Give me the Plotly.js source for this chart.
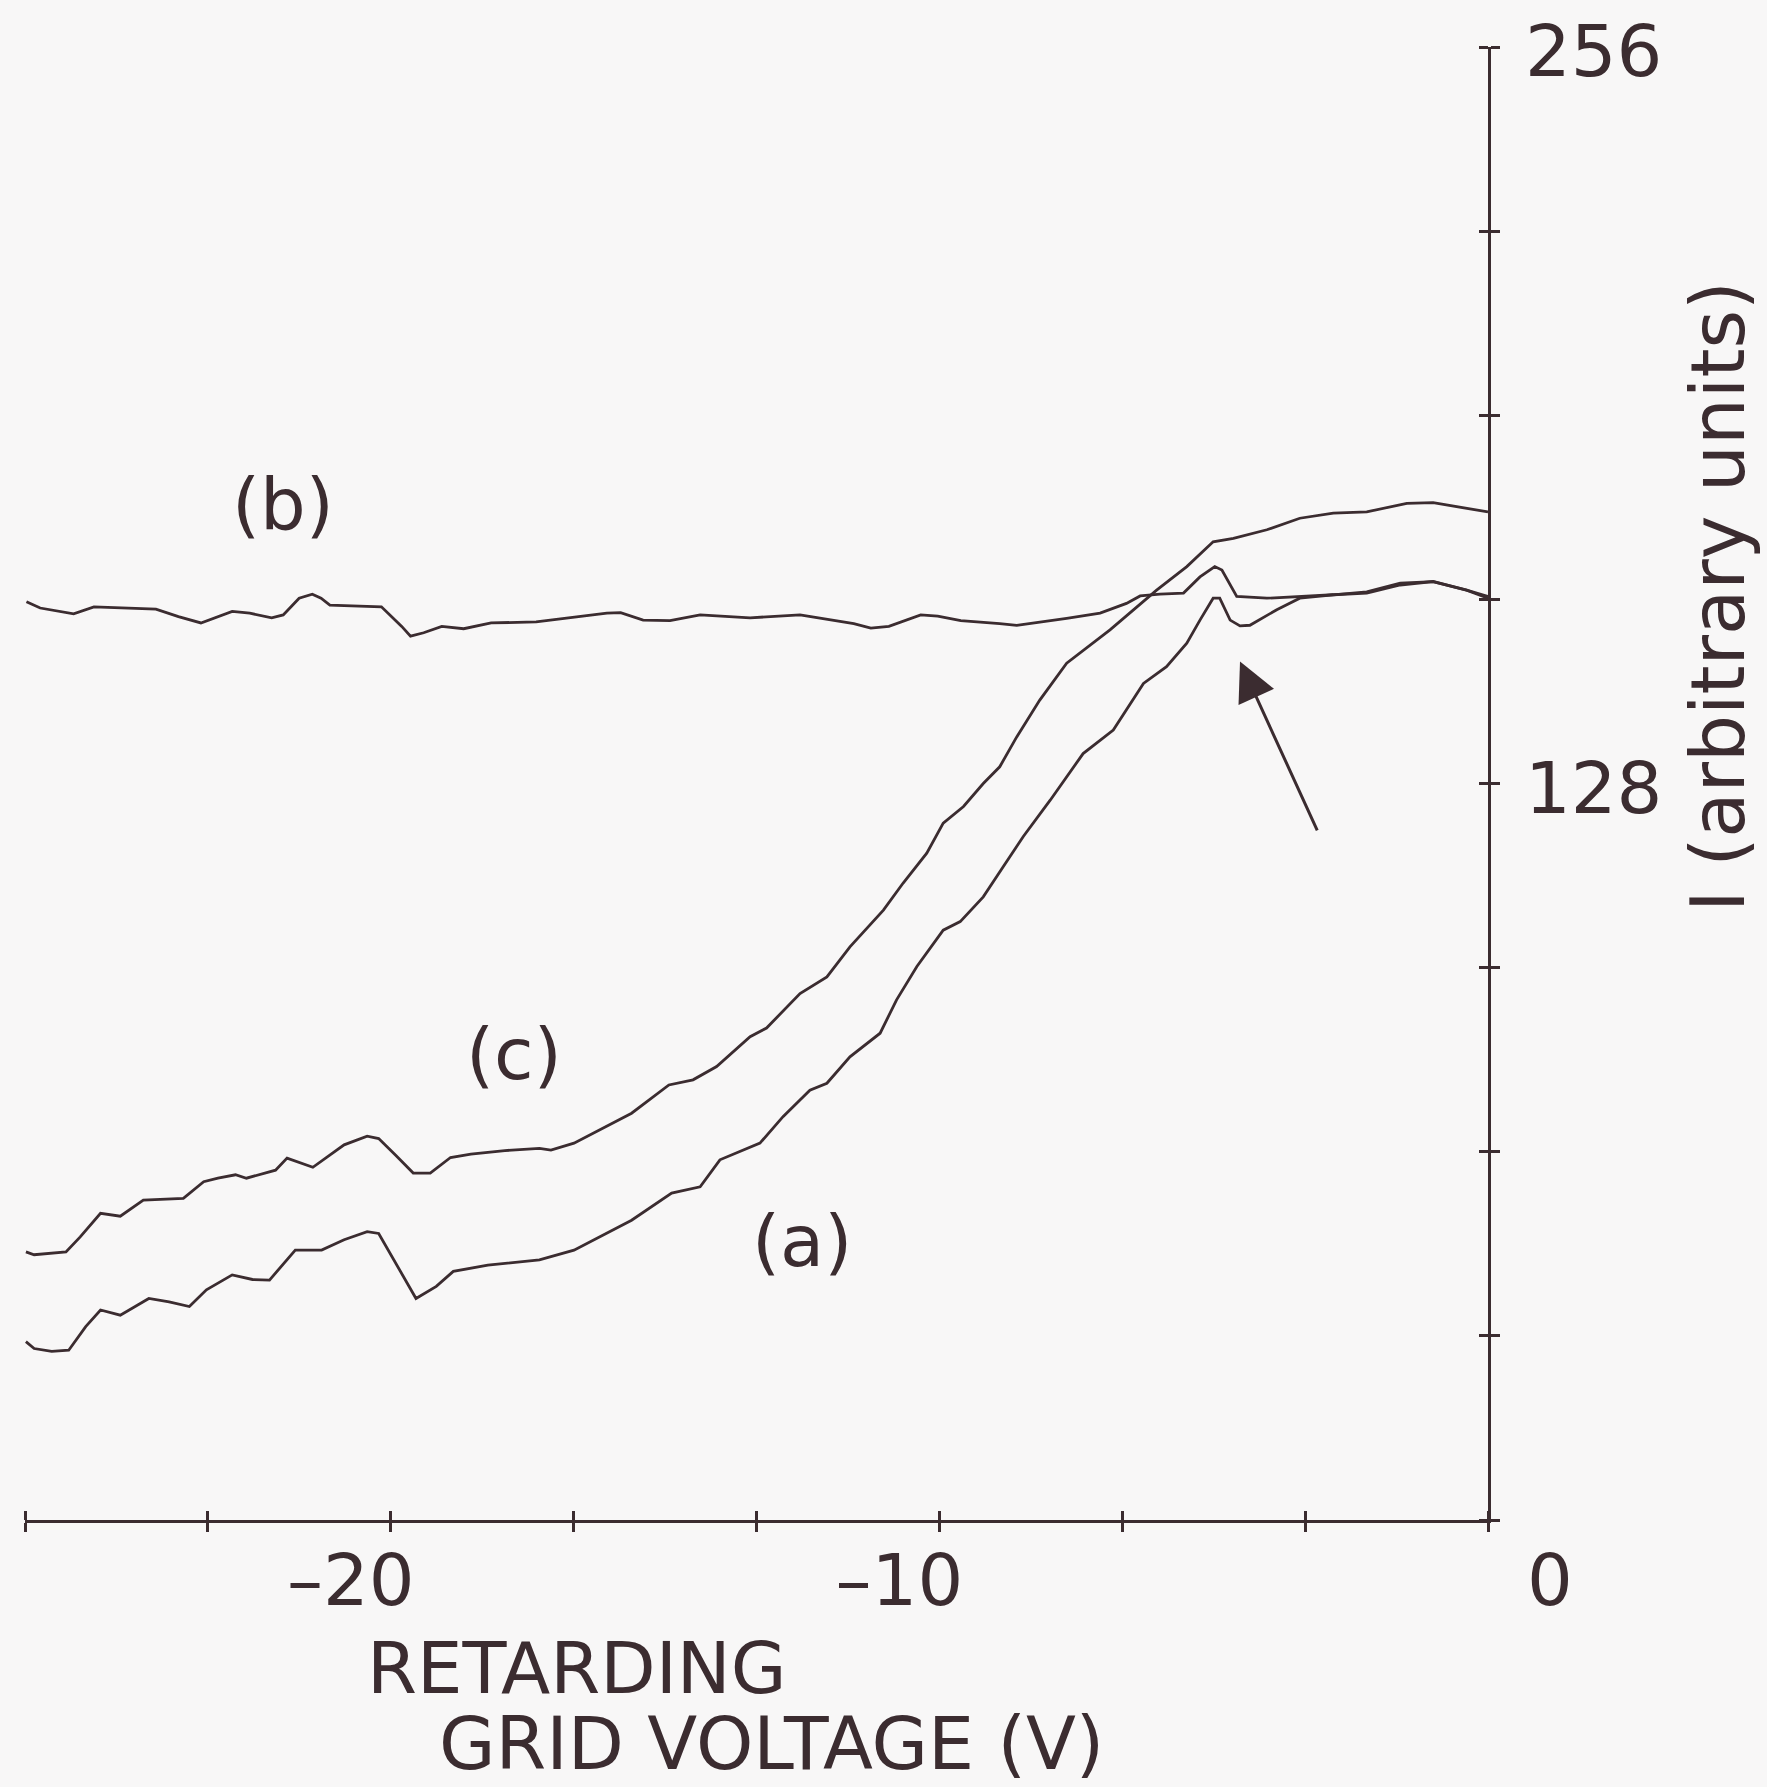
<!DOCTYPE html>
<html>
<head>
<meta charset="utf-8">
<script src="https://cdn.plot.ly/plotly-3.0.1.min.js"></script>
<style>html,body{margin:0;padding:0;background:#f8f7f7;}</style>
</head>
<body>
<div id="chart" style="width:1767px;height:1787px;"></div>
<script>
// ---- data ----
const voltageA = [-26.65,-26.50,-26.18,-25.87,-25.56,-25.29,-24.93,-24.41,-24.04,-23.67,-23.36,-22.89,-22.52,-22.21,-21.74,-21.26,-20.85,-20.43,-20.22,-19.91,-19.54,-19.17,-18.86,-18.23,-17.29,-16.66,-15.61,-14.88,-14.36,-14.00,-13.27,-12.85,-12.36,-12.05,-11.63,-11.08,-10.78,-10.41,-9.93,-9.62,-9.20,-8.84,-8.47,-7.98,-7.38,-6.83,-6.47,-6.28,-5.86,-5.49,-5.25,-5.01,-4.89,-4.70,-4.52,-4.34,-3.85,-3.43,-2.82,-2.21,-1.60,-1.00,-0.39,0];
const currentA = [31.0,29.8,29.3,29.5,33.6,36.5,35.6,38.5,37.9,37.1,40.0,42.6,41.8,41.7,46.9,46.9,48.7,50.1,49.8,44.6,38.5,40.6,43.2,44.3,45.2,46.9,52.1,56.8,57.9,62.6,65.5,70.1,74.7,75.9,80.5,84.6,90.4,96.2,102.5,104.0,108.3,113.5,118.8,125.1,133.2,137.3,142.5,145.4,148.3,152.4,156.4,160.2,160.2,156.4,155.4,155.5,158.2,160.2,160.8,161.1,162.5,163.1,161.6,160.2];

const voltageB = [-26.64,-26.39,-25.78,-25.41,-24.28,-23.87,-23.46,-22.89,-22.57,-22.17,-21.96,-21.67,-21.43,-21.27,-21.11,-20.17,-19.80,-19.64,-19.40,-19.07,-18.67,-18.17,-17.35,-16.06,-15.81,-15.40,-14.91,-14.36,-13.45,-12.54,-11.56,-11.25,-10.92,-10.34,-10.03,-9.61,-8.90,-8.59,-7.68,-7.07,-6.59,-6.34,-5.98,-5.55,-5.25,-4.98,-4.85,-4.58,-4.03,-3.43,-2.82,-2.21,-1.60,-1.00,-0.39,0];
const currentB = [159.6,158.5,157.5,158.7,158.3,157.0,155.9,157.9,157.6,156.8,157.3,160.2,160.9,160.2,159.0,158.7,155.3,153.6,154.2,155.3,154.9,155.9,156.1,157.6,157.7,156.4,156.3,157.3,156.8,157.3,155.8,155.0,155.3,157.3,157.1,156.3,155.8,155.5,156.7,157.6,159.3,160.6,160.9,161.1,163.9,165.7,165.1,160.5,160.2,160.5,160.8,161.3,162.8,163.1,161.6,160.5];

const voltageC = [-26.65,-26.50,-25.92,-25.66,-25.29,-24.93,-24.51,-23.78,-23.41,-23.15,-22.83,-22.63,-22.10,-21.89,-21.42,-20.85,-20.43,-20.22,-19.91,-19.59,-19.28,-18.91,-18.54,-17.92,-17.29,-17.08,-16.66,-15.61,-14.93,-14.49,-14.06,-13.45,-13.15,-12.54,-12.05,-11.63,-11.02,-10.66,-10.23,-9.93,-9.56,-9.20,-8.90,-8.59,-8.17,-7.68,-6.89,-6.04,-5.49,-5.01,-4.64,-4.03,-3.43,-2.82,-2.21,-1.48,-1.00,-0.39,0];
const currentC = [46.6,46.1,46.6,49.2,53.3,52.8,55.6,55.9,58.8,59.4,60.0,59.4,60.8,62.9,61.3,65.2,66.7,66.3,63.4,60.3,60.3,63.0,63.6,64.2,64.6,64.3,65.5,70.7,75.6,76.5,78.8,84.0,85.5,91.5,94.4,99.6,106.0,110.7,115.9,121.1,124.0,128.0,130.9,136.1,142.5,148.9,154.7,161.6,165.7,170.0,170.6,172.1,174.1,175.0,175.2,176.7,176.8,175.8,175.2];

const seriesNames = ['(a)', '(b)', '(c)'];
const xTickVals = [-20, -10];
const xTickText = ['\u201320', '\u201310'];
const xOriginText = '0';
const yTickVals = [128, 256];
const yTickText = ['128', '256'];
const xTitleLines = ['RETARDING', 'GRID VOLTAGE (V)'];
const yTitle = 'I (arbitrary units)';

// ---- styling ----
const ink = '#3b2c30';
const bg = '#f8f7f7';
const fam = 'DejaVu Sans, sans-serif';
const fs = 72;
const xRange = [-80/3, 0];
const yRange = [0, 256];
const xStep = 10/3;
const yStep = 32;

const lineStyle = {color: ink, width: 2.8};
const traces = [
  {x: voltageA, y: currentA, name: seriesNames[0], mode: 'lines', line: lineStyle, xaxis: 'x', yaxis: 'y', hoverinfo: 'skip'},
  {x: voltageB, y: currentB, name: seriesNames[1], mode: 'lines', line: lineStyle, xaxis: 'x2', yaxis: 'y2', hoverinfo: 'skip'},
  {x: voltageC, y: currentC, name: seriesNames[2], mode: 'lines', line: lineStyle, xaxis: 'x3', yaxis: 'y3', hoverinfo: 'skip'}
];

const baseAx = {showgrid: false, zeroline: false, fixedrange: true, tickcolor: ink, tickwidth: 3, color: ink};
const tickFont = {family: fam, size: fs, color: ink};
const annFont = {family: fam, size: fs, color: ink};

const layout = {
  width: 1767, height: 1787,
  margin: {l: 25, r: 279, t: 47, b: 267, pad: 0},
  paper_bgcolor: bg, plot_bgcolor: bg,
  showlegend: false,
  font: {family: fam, size: fs, color: ink},
  // main x axis: line + downward ticks
  xaxis: Object.assign({}, baseAx, {range: xRange, anchor: 'y', showline: true, linecolor: ink, linewidth: 3,
    tickmode: 'linear', tick0: 0, dtick: xStep, ticks: 'outside', ticklen: 9, showticklabels: false}),
  // second x axis at the same place, ticks pointing up
  xaxis2: Object.assign({}, baseAx, {range: xRange, overlaying: 'x', anchor: 'free', position: 0, side: 'top', showline: false,
    tickmode: 'linear', tick0: 0, dtick: xStep, ticks: 'outside', ticklen: 9, showticklabels: false}),
  // x tick labels
  xaxis3: Object.assign({}, baseAx, {range: xRange, overlaying: 'x', anchor: 'y', side: 'bottom', showline: false,
    tickmode: 'array', tickvals: xTickVals, ticktext: xTickText, ticks: '', showticklabels: true,
    tickfont: tickFont, ticklabelshift: -40, ticklabelstandoff: 12}),
  // main y axis (right): line + rightward ticks
  yaxis: Object.assign({}, baseAx, {range: yRange, anchor: 'x', side: 'right', showline: true, linecolor: ink, linewidth: 3,
    tickmode: 'linear', tick0: 0, dtick: yStep, ticks: 'outside', ticklen: 9, showticklabels: false}),
  // second y axis at the same place, ticks pointing left
  yaxis2: Object.assign({}, baseAx, {range: yRange, overlaying: 'y', anchor: 'free', position: 1, side: 'left', showline: false,
    tickmode: 'linear', tick0: 0, dtick: yStep, ticks: 'outside', ticklen: 9, showticklabels: false}),
  // y tick labels
  yaxis3: Object.assign({}, baseAx, {range: yRange, overlaying: 'y', anchor: 'x', side: 'right', showline: false,
    tickmode: 'array', tickvals: yTickVals, ticktext: yTickText, ticks: '', showticklabels: true,
    tickfont: tickFont, ticklabelstandoff: 36, ticklabelshift: 4}),
  annotations: [
    {text: xOriginText, xref: 'x', yref: 'paper', x: 0, y: -0.0407, xshift: 62, showarrow: false, xanchor: 'center', yanchor: 'middle', font: annFont},
    {text: seriesNames[1], xref: 'x', yref: 'y', x: -21.96, y: 176.6, showarrow: false, xanchor: 'center', yanchor: 'middle', font: annFont},
    {text: seriesNames[2], xref: 'x', yref: 'y', x: -17.75, y: 81.0, showarrow: false, xanchor: 'center', yanchor: 'middle', font: annFont},
    {text: seriesNames[0], xref: 'x', yref: 'y', x: -12.50, y: 48.5, showarrow: false, xanchor: 'center', yanchor: 'middle', font: annFont},
    {text: '', xref: 'x', yref: 'y', x: -4.52, y: 149.2, axref: 'x', ayref: 'y', ax: -3.10, ay: 119.6,
      showarrow: true, arrowhead: 2, arrowsize: 2.6, arrowwidth: 3, arrowcolor: ink, standoff: 0},
    {text: xTitleLines[0], xref: 'paper', yref: 'paper', x: 0.3773, y: -0.1004, height: 70, valign: 'middle', showarrow: false, xanchor: 'center', yanchor: 'middle', font: annFont},
    {text: xTitleLines[1], xref: 'paper', yref: 'paper', x: 0.5103, y: -0.1514, height: 70, valign: 'middle', showarrow: false, xanchor: 'center', yanchor: 'middle', font: {family: fam, size: 73, color: ink}},
    {text: yTitle, xref: 'paper', yref: 'paper', x: 1.1572, y: 0.6273, textangle: -90, showarrow: false, xanchor: 'center', yanchor: 'middle', font: {family: fam, size: 74, color: ink}}
  ]
};

Plotly.newPlot('chart', traces, layout, {staticPlot: true, displayModeBar: false});
</script>
</body>
</html>
